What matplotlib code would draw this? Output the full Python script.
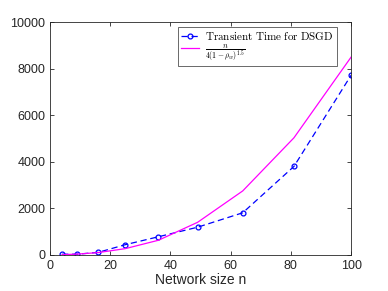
import numpy as np
import matplotlib.pyplot as plt

plt.rcParams['mathtext.fontset'] = 'cm'
plt.rcParams['font.family'] = ['Liberation Sans', 'DejaVu Sans']

# network sizes and the two curves
n = [4, 9, 16, 25, 36, 49, 64, 81, 100]
transient = [30, 30, 110, 440, 780, 1190, 1810, 3800, 7720]
bound = [10, 35, 100, 270, 630, 1400, 2750, 5030, 8500]

fig = plt.figure(figsize=(3.88, 2.91), dpi=100)
ax = fig.add_axes([0.129, 0.124, 0.776, 0.800])

ax.plot(n, transient, '--o', color='b', lw=0.9, markersize=3.5, dashes=(5, 3),
        markerfacecolor='none', markeredgewidth=0.9,
        label=r'$\mathrm{Transient\ Time\ for\ DSGD}$')
ax.plot(n, bound, '-', color='#ff00ff', lw=0.9,
        label=r'$\frac{n}{4(1-\rho_w)^{1.5}}$')

ax.set_xlim(0, 100)
ax.set_ylim(0, 10000)
ax.set_xticks([0, 20, 40, 60, 80, 100])
ax.set_yticks([0, 2000, 4000, 6000, 8000, 10000])
ax.tick_params(direction='in', top=True, right=True, labelsize=9,
               length=3, width=0.6, colors='#262626')
for s in ax.spines.values():
    s.set_linewidth(0.6)
    s.set_color('#262626')
ax.set_xlabel('Network size n', fontsize=10, color='#262626', labelpad=1)

leg = ax.legend(loc='upper right', bbox_to_anchor=(0.952, 0.98), fontsize=8,
                frameon=True, fancybox=False, borderpad=0.25,
                handlelength=1.6, handletextpad=0.6, labelspacing=0.15,
                borderaxespad=0.0)
leg.get_frame().set_edgecolor('#262626')
leg.get_frame().set_linewidth(0.6)

fig.savefig('out.png', dpi=100)
